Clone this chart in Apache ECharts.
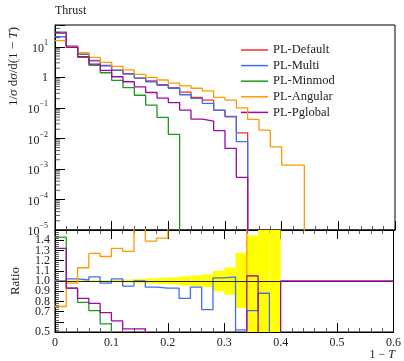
<!DOCTYPE html>
<html>
<head>
<meta charset="utf-8">
<script src="https://cdn.jsdelivr.net/npm/echarts@6/dist/echarts.min.js"></script>
<style>
  html, body { margin: 0; padding: 0; background: #fff; }
  #chart { width: 404px; height: 361px; }
</style>
</head>
<body>
<div id="chart"></div>
<script>
// bins are 0.02 wide, starting at 1-T = 0
var binWidth = 0.02;

// 1/sigma dsigma/d(1-T), one value per bin (0 = empty bin)
var plDefault = [21.5, 10.4, 5.7, 3.5, 2.45, 1.7, 1.33, 0.95, 0.76, 0.58, 0.46, 0.33, 0.22, 0.18, 0.083, 0.051, 0.0153, 0];
var plMulti   = [21.5, 10.6, 5.75, 3.6, 2.4, 1.73, 1.28, 0.95, 0.72, 0.55, 0.44, 0.27, 0.205, 0.14, 0.085, 0.053, 0.0078, 0];
var plMinmod  = [30.5, 9.7, 4.5, 2.5, 1.42, 0.8, 0.46, 0.26, 0.124, 0.049, 0.0135, 0];
var plAngular = [15.9, 10.2, 6.5, 4.5, 3.1, 2.3, 1.75, 1.25, 1.0, 0.82, 0.65, 0.53, 0.44, 0.36, 0.22, 0.18, 0.10, 0.042, 0.0187, 0.0053, 0.00133, 0.00133, 0];
var plPglobal = [28, 9.7, 4.8, 2.7, 1.7, 1.05, 0.72, 0.49, 0.32, 0.21, 0.15, 0.085, 0.043, 0.037, 0.018, 0.0047, 0.00053, 0];

// ratio to PL-Default, per bin
var ratioMulti   = [1.0, 1.02, 1.01, 1.04, 0.98, 1.02, 0.95, 1.0, 0.94, 0.93, 0.93, 0.83, 0.94, 0.72, 1.03, 1.04, 0.52, 0.71, 0.88, 0];
var ratioMinmod  = [1.43, 0.93, 0.79, 0.71, 0.58, 0.47, 0.34, 0.27, 0.16, 0.085, 0.03, 0];
var ratioAngular = [0.75, 0.98, 1.13, 1.27, 1.24, 1.32, 1.29, 1.65, 1.39, 1.42, 1.7, 1.8, 1.9, 1.9, 2.5, 3, 6, 1.05];
var ratioPglobal = [1.32, 0.93, 0.83, 0.78, 0.69, 0.61, 0.53, 0.53, 0.42, 0.36, 0.33, 0.26, 0.2, 0.2, 0.22, 0.09, 0.035, 1.05, 0, 0, 1, 1, 1, 1, 1, 1, 1, 1, 1, 1];

// PL-Default uncertainty band in the ratio panel
var bandLow  = [0.992, 0.992, 0.992, 0.992, 0.992, 0.988, 0.985, 0.98, 0.975, 0.97, 0.965, 0.955, 0.95, 0.94, 0.90, 0.865, 0.735, 0.5, 0.5, 0.5];
var bandHigh = [1.008, 1.008, 1.008, 1.008, 1.008, 1.012, 1.015, 1.02, 1.025, 1.03, 1.035, 1.045, 1.055, 1.065, 1.10, 1.133, 1.275, 1.445, 1.5, 1.5];

var names = ['PL-Default', 'PL-Multi', 'PL-Minmod', 'PL-Angular', 'PL-Pglobal'];
var colors = ['#f0302a', '#3f6ff0', '#1f9a1f', '#ff9a00', '#9c0aa0'];

var FLOOR = 1e-9; // stand-in for an empty bin on the log axis
var serif = 'Liberation Serif';
var yMin = 1e-5, yMax = 52;

function edge(i) { return +(i * binWidth).toFixed(4); }

// histogram as step points: [lowEdge, value] ... [lastHighEdge, lastValue]
function steps(values, isLog) {
  var pts = [];
  values.forEach(function(v, i) {
    pts.push([edge(i), (isLog && v <= 0) ? FLOOR : v]);
  });
  var last = pts[pts.length - 1][1];
  pts.push([edge(values.length), last]);
  return pts;
}

// log-axis minor ticks at 2..9 x 10^k
var logMinor = [];
for (var k = -5; k <= 1; k++) {
  for (var m = 2; m <= 9; m++) {
    var t = m * Math.pow(10, k);
    if (t < yMax) logMinor.push([0, t]);
  }
}

var mainValues = [plDefault, plMulti, plMinmod, plAngular, plPglobal];
var ratioValues = [null, ratioMulti, ratioMinmod, ratioAngular, ratioPglobal];

var bandData = bandLow.map(function(lo, i) {
  return [edge(i), edge(i + 1), lo, bandHigh[i]];
});

var series = [];
mainValues.forEach(function(vals, k) {
  series.push({
    name: names[k], type: 'line', step: 'end', xAxisIndex: 0, yAxisIndex: 0,
    data: steps(vals, true), symbol: 'none', clip: true, animation: false,
    lineStyle: { color: colors[k], width: 1.3 }, itemStyle: { color: colors[k] }, z: 3 + k
  });
});

series.push({
  type: 'custom', xAxisIndex: 0, yAxisIndex: 0, data: logMinor, animation: false, silent: true, z: 10,
  renderItem: function(params, api) {
    var p = api.coord([api.value(0), api.value(1)]);
    return {
      type: 'line',
      shape: { x1: p[0], y1: p[1], x2: p[0] + 5, y2: p[1] },
      style: { stroke: '#333', lineWidth: 0.8 }
    };
  }
});

series.push({
  type: 'custom', xAxisIndex: 2, yAxisIndex: 1, data: bandData, animation: false, silent: true, z: 1,
  renderItem: function(params, api) {
    var p0 = api.coord([api.value(0), api.value(3)]);
    var p1 = api.coord([api.value(1), api.value(2)]);
    return {
      type: 'rect',
      shape: { x: p0[0], y: p0[1], width: p1[0] - p0[0], height: p1[1] - p0[1] },
      style: { fill: '#ffff00' }
    };
  },
  markLine: {
    silent: true, symbol: 'none', animation: false, label: { show: false },
    lineStyle: { color: '#222', width: 1.2, type: 'solid' },
    data: [{ yAxis: 1 }]
  }
});

[1, 2, 3, 4].forEach(function(k) {
  series.push({
    name: names[k], type: 'line', step: 'end', xAxisIndex: 2, yAxisIndex: 1,
    data: steps(ratioValues[k], false), symbol: 'none', clip: true, animation: false,
    lineStyle: { color: colors[k], width: 1.3 }, itemStyle: { color: colors[k] }, z: 3 + k
  });
});

var tickStyle = { color: '#000', width: 1 };
var minorStyle = { color: '#333', width: 0.8 };

function xAxisBase(grid, pos, labels) {
  return {
    type: 'value', gridIndex: grid, position: pos, min: 0, max: 0.6, interval: 0.1,
    axisLine: { show: true, onZero: false, lineStyle: { color: '#000', width: 1 } },
    axisTick: { show: true, inside: true, length: 9, lineStyle: tickStyle },
    minorTick: { show: true, splitNumber: 5, length: 4, lineStyle: minorStyle },
    splitLine: { show: false },
    axisLabel: labels ? {
      show: true, margin: 5, fontFamily: serif, fontSize: 12, color: '#222',
      formatter: function(v) { return v === 0 ? '0' : v.toFixed(1); }
    } : { show: false }
  };
}

var option = {
  animation: false,
  backgroundColor: '#fff',
  grid: [
    { left: 55, top: 25, width: 340, height: 205, show: true, borderColor: '#000', borderWidth: 1 },
    { left: 55, top: 230, width: 340, height: 102, show: true, borderColor: '#000', borderWidth: 1 }
  ],
  xAxis: [
    xAxisBase(0, 'bottom', false),
    xAxisBase(1, 'top', false),
    xAxisBase(1, 'bottom', true)
  ],
  yAxis: [
    {
      type: 'log', gridIndex: 0, min: yMin, max: yMax, logBase: 10,
      axisLine: { show: true, lineStyle: { color: '#000', width: 1 } },
      axisTick: { show: true, inside: true, length: 10, lineStyle: tickStyle },
      minorTick: { show: false },
      splitLine: { show: false },
      axisLabel: {
        margin: 7, fontFamily: serif, fontSize: 12, color: '#222', showMinLabel: true,
        formatter: function(v) {
          var e = Math.log10(v);
          if (Math.abs(e - Math.round(e)) > 1e-6) return '';
          e = Math.round(e);
          if (e === 0) return '1';
          return '{b|10}{s|' + (e < 0 ? '\u2212' + (-e) : e) + '}';
        },
        rich: {
          b: { fontFamily: serif, fontSize: 12, color: '#222', lineHeight: 16, verticalAlign: 'bottom' },
          s: { fontFamily: serif, fontSize: 8, color: '#222', lineHeight: 16, verticalAlign: 'top' }
        }
      }
    },
    {
      type: 'value', gridIndex: 1, min: 0.5, max: 1.5, interval: 0.1,
      axisLine: { show: true, lineStyle: { color: '#000', width: 1 } },
      axisTick: { show: true, inside: true, length: 9, lineStyle: tickStyle },
      minorTick: { show: true, splitNumber: 5, length: 4, lineStyle: minorStyle },
      splitLine: { show: false },
      axisLabel: {
        margin: 5, fontFamily: serif, fontSize: 12, color: '#222', showMinLabel: true,
        formatter: function(v) { return v > 1.45 ? '' : v.toFixed(1); }
      }
    }
  ],
  legend: {
    orient: 'vertical', left: 236, top: 38, icon: 'rect', itemWidth: 27, itemHeight: 1.5,
    itemGap: 1.6, data: names, selectedMode: false,
    textStyle: { fontFamily: serif, fontSize: 12.5, color: '#222', lineHeight: 14 }
  },
  graphic: [
    { type: 'text', left: 55, top: 5, style: { text: 'Thrust', font: '12px "Liberation Serif"', fill: '#222' } },
    { type: 'text', x: 14, y: 27, rotation: Math.PI / 2,
      style: {
        text: '1/{i|\u03c3} d{i|\u03c3}/d(1 \u2212 {i|T})', font: '13px "Liberation Serif"', fill: '#222',
        align: 'right', verticalAlign: 'middle',
        rich: { i: { fontFamily: serif, fontSize: 13, fontStyle: 'italic', fill: '#222' } }
      } },
    { type: 'text', x: 16, y: 281, rotation: Math.PI / 2,
      style: { text: 'Ratio', font: '13px "Liberation Serif"', fill: '#222', align: 'center', verticalAlign: 'middle' } },
    { type: 'text', x: 395, y: 355,
      style: {
        text: '1 \u2212 {i|T}', font: '12px "Liberation Serif"', fill: '#222', align: 'right', verticalAlign: 'middle',
        rich: { i: { fontFamily: serif, fontSize: 12, fontStyle: 'italic', fill: '#222' } }
      } }
  ],
  series: series
};

var chart = echarts.init(document.getElementById('chart'), null, { renderer: 'canvas' });
chart.setOption(option);
</script>
</body>
</html>
